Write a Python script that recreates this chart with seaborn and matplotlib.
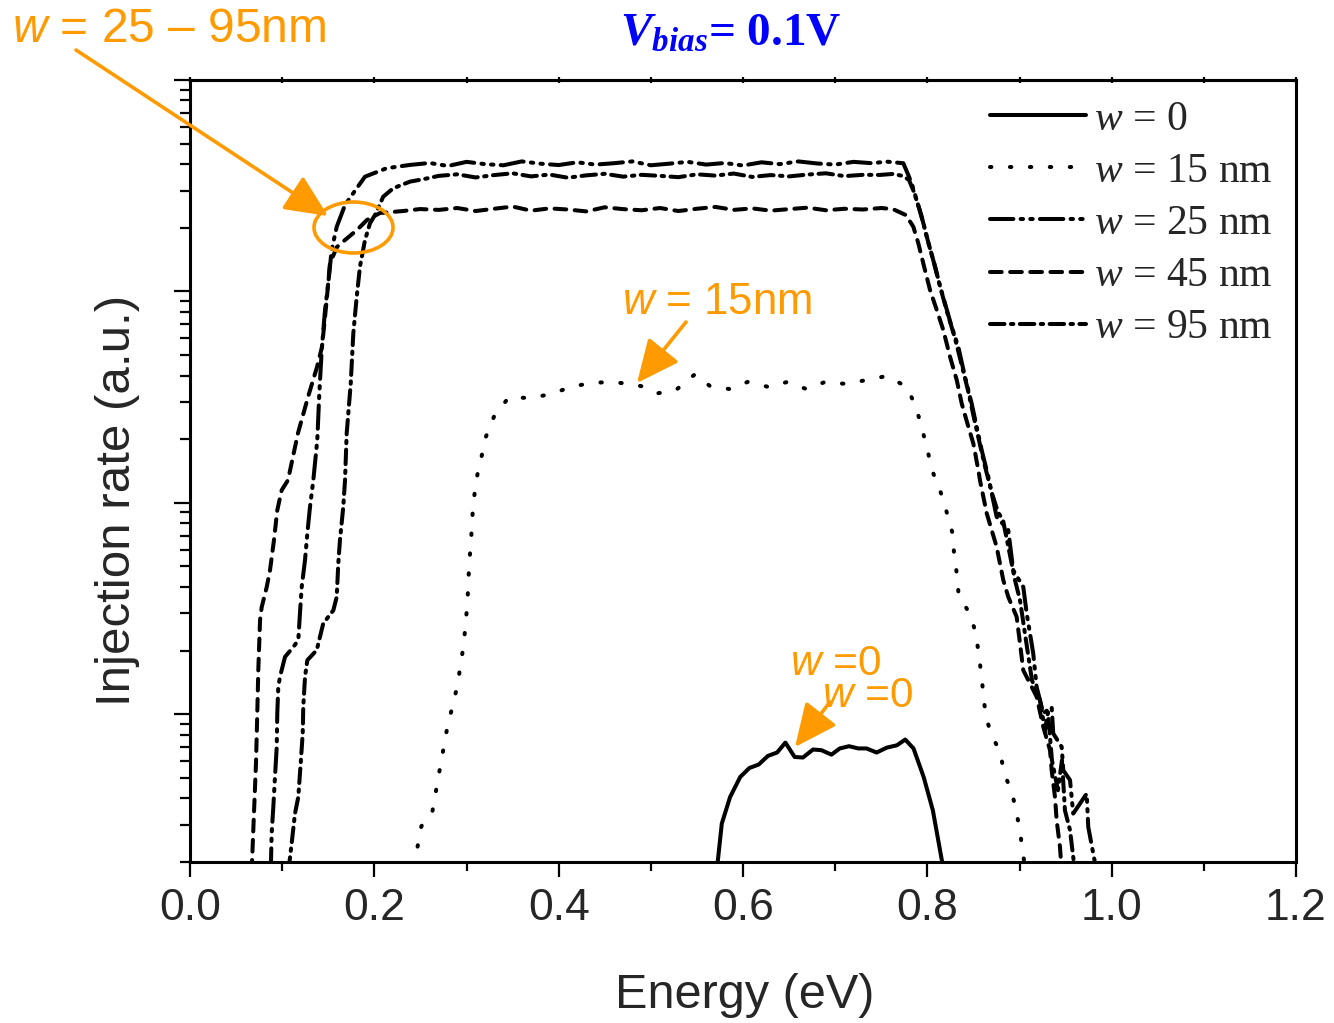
import numpy as np
import pandas as pd
import matplotlib
matplotlib.use("Agg")
import matplotlib.pyplot as plt
import seaborn as sns
from matplotlib.patches import Ellipse
from matplotlib.ticker import MultipleLocator, NullFormatter, LogLocator

# ---------------- data ----------------
x_w0 = [0.572, 0.577, 0.586, 0.597, 0.607, 0.617, 0.627, 0.637, 0.646, 0.656,
        0.665, 0.676, 0.685, 0.696, 0.705, 0.715, 0.725, 0.734, 0.745, 0.756,
        0.767, 0.776, 0.785, 0.796, 0.806, 0.817]
y_w0 = [0.19, 0.304, 0.406, 0.505, 0.557, 0.578, 0.635, 0.659, 0.734, 0.628,
        0.624, 0.681, 0.676, 0.644, 0.689, 0.706, 0.689, 0.689, 0.659, 0.695,
        0.713, 0.759, 0.689, 0.505, 0.351, 0.19]

x_w15 = [0.243, 0.251, 0.263, 0.271, 0.279, 0.290, 0.297, 0.301, 0.303, 0.305,
         0.306, 0.308, 0.311, 0.316, 0.321, 0.330, 0.346, 0.369, 0.392, 0.413,
         0.435, 0.457, 0.478, 0.494, 0.508, 0.527, 0.548, 0.564, 0.586, 0.605,
         0.628, 0.648, 0.669, 0.689, 0.712, 0.734, 0.756, 0.778, 0.788, 0.794,
         0.800, 0.805, 0.814, 0.821, 0.827, 0.829, 0.832, 0.834, 0.847, 0.853,
         0.856, 0.859, 0.861, 0.864, 0.870, 0.879, 0.883, 0.892, 0.897, 0.901,
         0.904, 0.906]
y_w15 = [0.191, 0.295, 0.347, 0.549, 0.859, 1.357, 2.14, 3.35, 5.24, 6.59,
         8.28, 10.4, 13.1, 16.3, 20.5, 25.7, 31.6, 31.3, 32.7, 35.3,
         36.9, 37.3, 36.5, 35.3, 33.0, 34.1, 40.6, 35.7, 34.5, 37.3,
         35.3, 37.3, 34.5, 37.3, 36.5, 38.1, 39.8, 35.3, 28.1, 22.6,
         17.9, 14.3, 11.4, 9.04, 7.27, 5.78, 4.60, 3.66, 2.94, 2.37,
         1.88, 1.50, 1.19, 0.957, 0.787, 0.668, 0.532, 0.423, 0.340, 0.270,
         0.215, 0.191]

x_w25 = ([0.0876, 0.0886, 0.0904, 0.0922, 0.0941, 0.0947, 0.0958, 0.0976, 0.1031, 0.1121,
          0.1175, 0.1193, 0.1212, 0.1248, 0.1273, 0.1302, 0.1338, 0.1381, 0.1403, 0.1429,
          0.1465, 0.1500, 0.1537, 0.1592, 0.1682, 0.1809, 0.1899, 0.2134, 0.2387]
         + [0.26, 0.28, 0.30, 0.32, 0.34, 0.36, 0.38, 0.40, 0.42, 0.44, 0.46, 0.48, 0.50,
            0.52, 0.54, 0.56, 0.58, 0.60, 0.62, 0.64, 0.66, 0.68, 0.70, 0.72, 0.74]
         + [0.7559, 0.7739, 0.7793, 0.7830, 0.7884, 0.7939, 0.7993, 0.8064, 0.8119, 0.8191,
            0.8264, 0.8336, 0.8408, 0.8481, 0.8535, 0.8589, 0.8661, 0.8752, 0.8878, 0.8932,
            0.9041, 0.9078, 0.9149, 0.9186, 0.9258, 0.9349, 0.9366, 0.9458, 0.9475, 0.9548,
            0.9583, 0.9729, 0.9746, 0.9837])
y_w25 = ([0.18, 0.273, 0.364, 0.505, 0.700, 1.01, 1.346, 1.502, 1.868, 2.08,
          2.24, 3.00, 4.00, 5.36, 7.16, 9.57, 12.8, 19.8, 32.9, 52.8,
          81.7, 109.2, 157, 202.3, 256.4, 307.6, 349, 382.6, 396.6]
         + [405, 392, 410, 400, 395, 412, 402, 396, 408, 398, 404, 412, 395,
            402, 410, 398, 405, 394, 408, 400, 412, 403, 398, 410, 404]
         + [411, 404, 355.6, 325, 270.6, 225.7, 181.7, 140.8, 113.3, 87.9,
            68.1, 54.7, 39.5, 29.5, 22.9, 17.8, 13.3, 8.59, 7.43, 4.80,
            4.00, 3.00, 1.94, 1.346, 1.01, 1.083, 0.811, 0.700, 0.543, 0.488,
            0.339, 0.421, 0.293, 0.18])

x_w45 = ([0.0669, 0.0694, 0.0716, 0.0730, 0.0741, 0.0760, 0.0778, 0.0832, 0.0868, 0.0911,
          0.0947, 0.0995, 0.1063, 0.1172, 0.1280, 0.1378, 0.1432, 0.1465, 0.1486, 0.1519,
          0.1595, 0.1682, 0.1812, 0.1920, 0.2061, 0.2311, 0.2495]
         + [0.27, 0.29, 0.31, 0.33, 0.35, 0.37, 0.39, 0.41, 0.43, 0.45, 0.47, 0.49, 0.51,
            0.53, 0.55, 0.57, 0.59, 0.61, 0.63, 0.65, 0.67, 0.69, 0.71, 0.73, 0.75]
         + [0.7627, 0.7768, 0.7848, 0.7902, 0.7956, 0.8029, 0.8102, 0.8173, 0.8246, 0.8319,
            0.8373, 0.8445, 0.8499, 0.8553, 0.8571, 0.8644, 0.8752, 0.8824, 0.8878, 0.8969,
            0.9005, 0.9041, 0.9186, 0.9258, 0.9331, 0.9349, 0.9385, 0.9403, 0.9439, 0.9458])
y_w45 = ([0.18, 0.340, 0.586, 1.01, 1.615, 2.786, 3.21, 3.99, 4.80, 6.66,
          9.23, 11.48, 12.8, 21.4, 31.6, 43.9, 54.6, 75.7, 94.1, 136.3,
          162.3, 175.1, 195.3, 217.7, 234.9, 240, 245.2]
         + [243, 248, 240, 246, 252, 241, 247, 244, 239, 250, 245, 242, 248,
            240, 246, 251, 243, 247, 241, 245, 249, 242, 246, 244, 248]
         + [245, 229.6, 202.3, 169, 135.8, 101.6, 81.7, 65.7, 49.1, 38.1,
            29.5, 22.9, 19.1, 14.3, 12.8, 8.93, 6.19, 4.31, 3.59, 2.89,
            2.17, 1.615, 1.21, 0.871, 0.676, 0.543, 0.406, 0.315, 0.236, 0.18])

x_w95 = ([0.1067, 0.1103, 0.1139, 0.1175, 0.1201, 0.1223, 0.1229, 0.1248, 0.1273, 0.1375,
          0.1446, 0.1555, 0.1592, 0.1609, 0.1627, 0.1663, 0.1682, 0.1700, 0.1744, 0.1772,
          0.1809, 0.1844, 0.1899, 0.1953, 0.2007, 0.2097, 0.2206, 0.2387, 0.2531]
         + [0.27, 0.29, 0.31, 0.33, 0.35, 0.37, 0.39, 0.41, 0.43, 0.45, 0.47, 0.49,
            0.51, 0.53, 0.55, 0.57, 0.59, 0.61, 0.63, 0.65, 0.67, 0.69, 0.71, 0.73]
         + [0.7486, 0.7627, 0.7736, 0.7801, 0.7855, 0.7910, 0.7964, 0.8018, 0.8083, 0.8148,
            0.8224, 0.8300, 0.8365, 0.8441, 0.8506, 0.8560, 0.8625, 0.8701, 0.8766, 0.8821,
            0.8875, 0.8951, 0.9005, 0.9070, 0.9135, 0.9222, 0.9276, 0.9309, 0.9352, 0.9417,
            0.9461, 0.9493, 0.9548, 0.9602])
y_w95 = ([0.18, 0.245, 0.339, 0.406, 0.585, 0.811, 1.083, 1.502, 1.801, 2.01,
          2.69, 3.10, 3.59, 5.17, 6.66, 9.57, 12.8, 21.3, 36.7, 63.4,
          94.4, 130.9, 175.1, 210, 229.9, 280.8, 307.6, 330.6, 339.4]
         + [352, 358, 346, 355, 362, 350, 357, 345, 354, 360, 349, 356,
            352, 347, 358, 353, 361, 348, 355, 350, 357, 362, 351, 356]
         + [355.6, 359.5, 351.6, 336.5, 295.3, 247.9, 203.9, 165.7, 131.8, 101.6,
            77.3, 60.1, 46.3, 34.1, 25.2, 19.8, 14.9, 11.1, 9.04, 8.28,
            6.31, 4.31, 3.47, 2.24, 1.449, 1.165, 0.840, 1.022, 0.606, 0.437,
            0.606, 0.351, 0.283, 0.18])

series_labels = [r"$w$ = 0", r"$w$ = 15 nm", r"$w$ = 25 nm", r"$w$ = 45 nm", r"$w$ = 95 nm"]
x_ticks = [0.0, 0.2, 0.4, 0.6, 0.8, 1.0, 1.2]
x_ticklabels = ["0.0", "0.2", "0.4", "0.6", "0.8", "1.0", "1.2"]

# ---------------- style ----------------
sns.set_style("ticks")
plt.rcParams["font.family"] = ["Liberation Sans", "DejaVu Sans"]
plt.rcParams["mathtext.fontset"] = "custom"
plt.rcParams["mathtext.rm"] = "Liberation Serif"
plt.rcParams["mathtext.it"] = "Liberation Serif:italic"
plt.rcParams["mathtext.bf"] = "Liberation Serif:bold:italic"
plt.rcParams["mathtext.sf"] = "Liberation Sans:italic"

W, H = 1334, 1023
def fp(px, py):
    return (px / W, 1 - py / H)

ORANGE = "#FF9A00"
LW = 2.2
DLW = 2.9

fig = plt.figure(figsize=(W / 100, H / 100), dpi=100)
ax = fig.add_axes([190 / W, 1 - 862 / H, (1296 - 190) / W, (862 - 80) / H])

series = [(x_w0, y_w0), (x_w15, y_w15), (x_w25, y_w25), (x_w45, y_w45), (x_w95, y_w95)]
dash_styles = [None, (0.35, 4.6), (5.8, 1.8, 0.6, 1.8, 0.6, 1.8), (2.9, 2.1), (3.6, 1.6, 0.6, 1.6)]

handles = []
for (xs, ys), lab, ds in zip(series, series_labels, dash_styles):
    df = pd.DataFrame({"Energy": xs, "Rate": ys})
    sns.lineplot(data=df, x="Energy", y="Rate", ax=ax, color="black", lw=DLW,
                 estimator=None, sort=False, label=lab)
    ln = ax.lines[-1]
    if ds is not None:
        ln.set_dashes(ds)
        ln.set_dash_capstyle("round")
    handles.append(ln)

ax.set_yscale("log")
ax.set_ylim(0.2, 1000)
ax.set_xlim(0, 1.2)
ax.set_xlabel("")
ax.set_ylabel("")

ax.set_xticks(x_ticks)
ax.set_xticklabels(x_ticklabels)
ax.xaxis.set_minor_locator(MultipleLocator(0.1))
ax.yaxis.set_major_locator(LogLocator(base=10, numticks=10))
ax.yaxis.set_minor_locator(LogLocator(base=10, subs=np.arange(2, 10), numticks=20))
ax.yaxis.set_major_formatter(NullFormatter())
ax.yaxis.set_minor_formatter(NullFormatter())

ax.tick_params(axis="x", which="major", direction="out", length=11, width=1.6,
               labelsize=32, pad=8, bottom=True, top=False, color="black")
ax.tick_params(axis="x", which="minor", direction="out", length=6.5, width=1.6,
               bottom=True, top=False, color="black")
ax.tick_params(axis="y", which="major", direction="out", length=11.5, width=1.6,
               left=True, right=False, color="black")
ax.tick_params(axis="y", which="minor", direction="out", length=7, width=1.6,
               left=True, right=False, color="black")

sec = ax.secondary_xaxis("top")
sec.set_xticks(np.arange(0, 1.21, 0.1))
sec.tick_params(axis="x", direction="inout", length=5, width=1.6, labeltop=False, color="black")
sec.spines["top"].set_linewidth(LW)

for s in ax.spines.values():
    s.set_visible(True)
    s.set_linewidth(LW)
    s.set_color("black")

# axis labels
fig.text(745 / W, 1 - 995 / H, "Energy (eV)", ha="center", va="center", fontsize=35)
fig.text(118 / W, 1 - 500 / H, "Injection rate (a.u.)", ha="center", va="center",
         rotation=90, fontsize=35.5)

# legend
leg = ax.legend(handles, series_labels, loc="upper left",
                bbox_to_anchor=fp(990, 100), bbox_transform=fig.transFigure,
                frameon=False, borderaxespad=0, borderpad=0, handlelength=2.3,
                handletextpad=0.2, labelspacing=0.33,
                prop={"family": "Liberation Serif", "size": 30})

# title
fig.text(731 / W, 1 - 35 / H, r"$\mathbf{V}_{\mathbf{bias}}$= 0.1V", ha="center", va="center",
         fontsize=34, color="#0000FF", family="Liberation Serif", weight="bold")

# orange annotations
fig.text(12 / W, 1 - 29 / H, r"$\mathsf{w}$ = 25 – 95nm", ha="left", va="center",
         fontsize=34.5, color=ORANGE)
fig.text(622 / W, 1 - 303 / H, r"$\mathsf{w}$ = 15nm", ha="left", va="center",
         fontsize=31.5, color=ORANGE)
fig.text(790 / W, 1 - 664 / H, r"$\mathsf{w}$ =0", ha="left", va="center",
         fontsize=30.5, color=ORANGE)
fig.text(822 / W, 1 - 696 / H, r"$\mathsf{w}$ =0", ha="left", va="center",
         fontsize=30.5, color=ORANGE)

arrow_kw = dict(arrowstyle="-|>,head_length=1.2,head_width=0.55", color=ORANGE, lw=2.6,
                mutation_scale=22, shrinkA=0, shrinkB=0)
for start, end in [((76, 50), (328, 216)), ((686, 322), (637, 383)), ((830, 702), (795, 747))]:
    fig.add_artist(matplotlib.patches.FancyArrowPatch(fp(*start), fp(*end),
                                                     transform=fig.transFigure, **arrow_kw))

ell = Ellipse(fp(353.5, 227.5), 79 / W, 51 / H, transform=fig.transFigure,
              fill=False, edgecolor=ORANGE, lw=2.6, angle=0)
fig.add_artist(ell)

fig.savefig("out.png", dpi=100)
